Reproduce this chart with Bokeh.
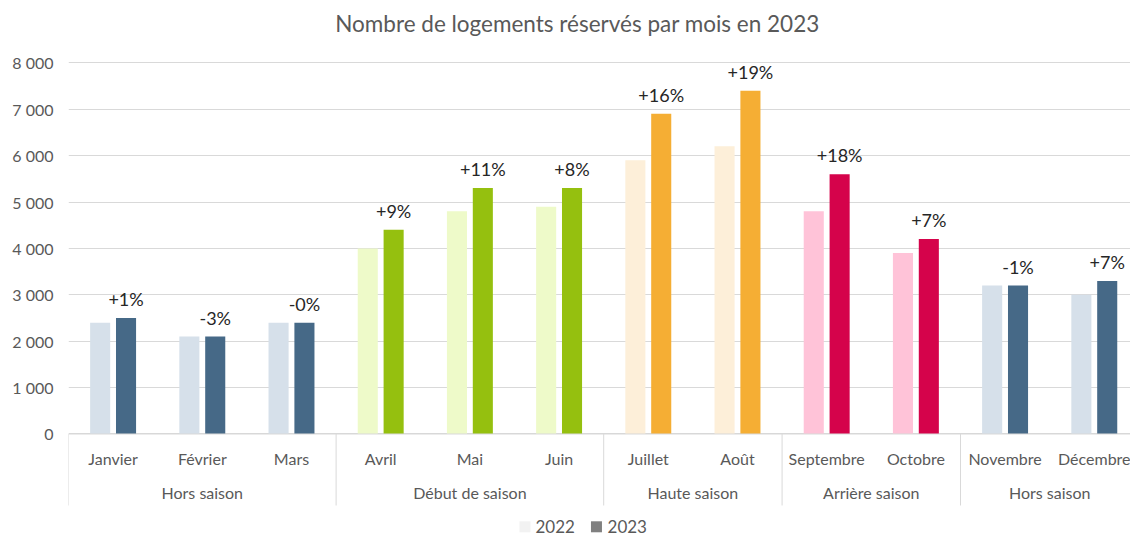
from bokeh.plotting import figure
from bokeh.models import FixedTicker, Range1d, ColumnDataSource
from bokeh.core.properties import value
from bokeh.embed import file_html
from bokeh.resources import INLINE

months = ["Janvier", "Février", "Mars", "Avril", "Mai", "Juin", "Juillet", "Août",
          "Septembre", "Octobre", "Novembre", "Décembre"]
seasons = ["Hors saison", "Début de saison", "Haute saison", "Arrière saison", "Hors saison"]
season_sizes = [3, 3, 2, 2, 2]
v2022 = [2400, 2100, 2400, 4000, 4800, 4900, 5900, 6200, 4800, 3900, 3200, 3000]
v2023 = [2500, 2100, 2400, 4400, 5300, 5300, 6900, 7400, 5600, 4200, 3200, 3300]
labels = ["+1%", "-3%", "-0%", "+9%", "+11%", "+8%", "+16%", "+19%", "+18%", "+7%", "-1%", "+7%"]
light_colors = ["#d6e0ea", "#eefac9", "#fdefd9", "#ffc3d8", "#d6e0ea"]
dark_colors = ["#466987", "#95c00f", "#f5ae34", "#d5034b", "#466987"]
y_ticks = [0, 1000, 2000, 3000, 4000, 5000, 6000, 7000, 8000]

FONT = "Lato"
GRAY = "#595959"

c22, c23 = [], []
for s, n in enumerate(season_sizes):
    c22 += [light_colors[s]] * n
    c23 += [dark_colors[s]] * n

p = figure(width=1130, height=539, output_backend="svg", toolbar_location=None,
           x_range=Range1d(0, 11.906), y_range=Range1d(-2274, 9343),
           x_axis_location=None, title_location=None,
           min_border=0, min_border_left=68, min_border_right=0,
           min_border_top=0, min_border_bottom=0)
p.outline_line_color = None
p.xgrid.visible = False
p.background_fill_color = "white"

ticker = FixedTicker(ticks=y_ticks)
p.yaxis.ticker = ticker
p.yaxis.axis_line_color = None
p.yaxis.major_tick_line_color = None
p.yaxis.minor_tick_line_color = None
p.yaxis.major_tick_out = 0
p.yaxis.major_label_standoff = 15
p.yaxis.major_label_text_font = FONT
p.yaxis.major_label_text_font_size = "16px"
p.yaxis.major_label_text_color = GRAY
p.yaxis.major_label_overrides = {t: (f"{t:,}".replace(",", " ")) for t in y_ticks}
p.ygrid.ticker = ticker
p.ygrid.grid_line_color = "#d9d9d9"
p.ygrid.grid_line_width = 1

xc = [i + 0.5 for i in range(len(months))]
src = ColumnDataSource(dict(
    x22=[x - 0.145 for x in xc], x23=[x + 0.145 for x in xc], xc=xc,
    v22=v2022, v23=v2023, c22=c22, c23=c23, lab=labels, month=months))

p.vbar(x="x22", top="v22", bottom=0, width=0.225, fill_color="c22", line_color=None, source=src)
p.vbar(x="x23", top="v23", bottom=0, width=0.225, fill_color="c23", line_color=None, source=src)

p.text(x="x23", y="v23", text="lab", source=src, text_align="center",
       text_baseline="alphabetic", y_offset=-19, text_font=value(FONT),
       text_font_size="18px", text_color="#262626")

# category axis box
bounds = [0]
for n in season_sizes:
    bounds.append(bounds[-1] + n)
p.segment(x0=[0], y0=[0], x1=[12], y1=[0], line_color="#d9d9d9", line_width=1)
p.segment(x0=bounds, y0=[0] * len(bounds), x1=bounds, y1=[-1541] * len(bounds),
          line_color="#d9d9d9", line_width=1)

p.text(x="xc", y=value(-528), text="month", source=src, text_align="center",
       text_baseline="middle", text_font=value(FONT), text_font_size="16px",
       text_color=GRAY)
s_centers = [(bounds[i] + bounds[i + 1]) / 2 for i in range(len(seasons))]
p.text(x=s_centers, y=[-1261] * len(seasons), text=seasons, text_align="center",
       text_baseline="middle", text_font=value(FONT), text_font_size="16px",
       text_color=GRAY)

# title
p.text(x=[5.706], y=[8847], text=["Nombre de logements réservés par mois en 2023"],
       text_align="center", text_baseline="middle", text_font=value(FONT),
       text_font_size="22.5px", text_color=GRAY)

# legend
p.scatter(x=[5.117, 5.919], y=[-2000, -2000], marker="square", size=11,
          fill_color=["#f2f2f2", "#808080"], line_color=None)
p.text(x=[5.235, 6.043], y=[-2000, -2000], text=["2022", "2023"], text_align="left",
       text_baseline="middle", text_font=value(FONT), text_font_size="17px",
       text_color=GRAY)

open("out.html", "w").write(file_html(p, INLINE))
